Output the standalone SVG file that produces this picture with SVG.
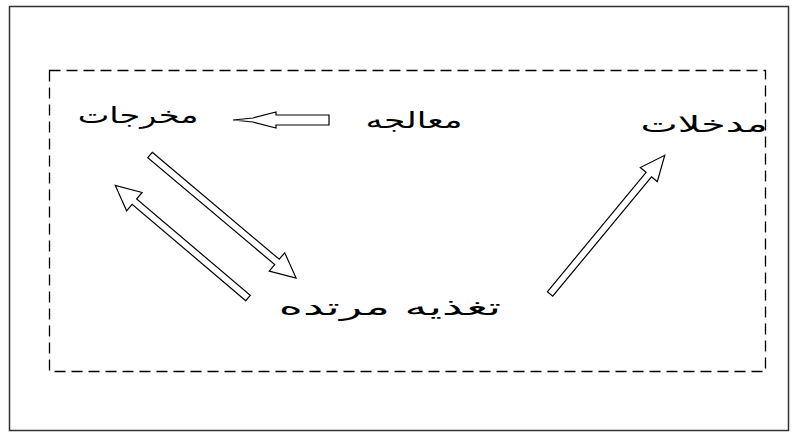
<svg xmlns="http://www.w3.org/2000/svg" width="797" height="436" viewBox="0 0 797 436">
<style>
.lbl{font-family:"DejaVu Sans","Noto Sans",sans-serif;font-size:23px;fill:#000;text-anchor:middle}
.arr{fill:#fff;stroke:#000;stroke-width:1.2;stroke-linejoin:miter}
</style>
<rect width="797" height="436" fill="#fff"/>
<rect x="9.5" y="6.5" width="779" height="424" fill="none" stroke="#333" stroke-width="1.5"/>
<rect x="49.5" y="70.5" width="716" height="301" fill="none" stroke="#000" stroke-width="1.3" stroke-dasharray="11,6"/>
<g id="outputs"><text class="lbl" transform="translate(138,123) scale(1.46,1)">مخرجات</text></g>
<g id="processing"><text class="lbl" transform="translate(414,128) scale(1.5,1)">معالجه</text></g>
<g id="inputs"><text class="lbl" transform="translate(704,132) scale(1.72,1)">مدخلات</text></g>
<g id="feedback"><text class="lbl" transform="translate(390,315) scale(2,1)">تغذيه مرتده</text></g>
<g id="connectors">
<polygon class="arr" points="329,115 276,115 276,112 253,118 233,120 253,122 276,128 276,125 329,125"/>
<polygon class="arr" transform="translate(150,155) rotate(40.1)" points="0,-3.5 166,-3.5 166,-12 191,0 166,12 166,3.5 0,3.5"/>
<polygon class="arr" transform="translate(248,298) rotate(220.3)" points="0,-3.5 149,-3.5 149,-12 174,0 149,12 149,3.5 0,3.5"/>
<polygon class="arr" transform="translate(550,294) rotate(-50.4)" points="0,-3.5 155,-3.5 155,-11 180,0 155,11 155,3.5 0,3.5"/>
</g>
</svg>
